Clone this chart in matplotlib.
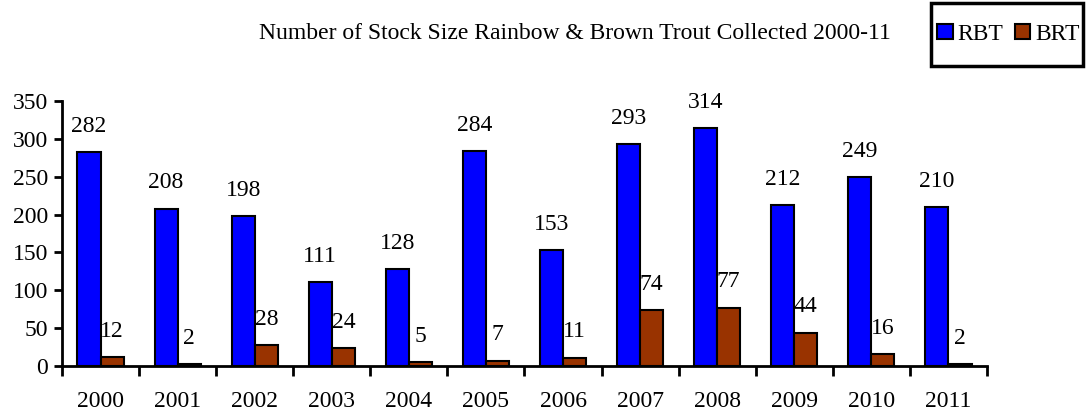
import matplotlib.pyplot as plt
from matplotlib.patches import Rectangle
import numpy as np

plt.rcParams.update({
    "font.family": ["Liberation Serif", "DejaVu Serif"],
    "font.size": 17,
})

years = ["2000", "2001", "2002", "2003", "2004", "2005",
         "2006", "2007", "2008", "2009", "2010", "2011"]
rbt = [282, 208, 198, 111, 128, 284, 153, 293, 314, 212, 249, 210]
brt = [12, 2, 28, 24, 5, 7, 11, 74, 77, 44, 16, 2]

fig = plt.figure(figsize=(10.86, 4.17), dpi=100)
ax = fig.add_axes([0.0571, 0.1223, 0.8517, 0.6355])

x = np.arange(len(years))
w = 0.3
b1 = ax.bar(x - w / 2, rbt, w, color="#0000FF", edgecolor="black", linewidth=1.5, label="RBT")
b2 = ax.bar(x + w / 2, brt, w, color="#993300", edgecolor="black", linewidth=1.5, label="BRT")

for rect, v in list(zip(b1, rbt)) + list(zip(b2, brt)):
    ax.annotate(str(v), (rect.get_x() + rect.get_width() / 2, v),
                textcoords="offset points", xytext=(0, 11),
                ha="center", va="bottom", fontsize=17)

ax.set_xlim(-0.5, len(years) - 0.5)
ax.set_ylim(0, 350)
ax.set_yticks(range(0, 351, 50))
ax.set_xticks(x)
ax.set_xticklabels(years)
ax.set_xticks(np.arange(-0.5, len(years)), minor=True)
ax.tick_params(axis="x", which="major", length=0, pad=18)
ax.tick_params(axis="x", which="minor", length=7, width=2)
ax.tick_params(axis="y", length=6, width=2, pad=4)
for s in ["top", "right"]:
    ax.spines[s].set_visible(False)
for s in ["left", "bottom"]:
    ax.spines[s].set_linewidth(2)

fig.text(0.529, 0.92, "Number of Stock Size Rainbow & Brown Trout Collected 2000-11",
         ha="center", va="center", fontsize=17)

# legend box is taller than its contents in the original
fig.patches.append(Rectangle((0.857, 0.8417), 0.14, 0.151, transform=fig.transFigure,
                             fill=False, edgecolor="black", linewidth=2.5))
leg = fig.legend(handles=[b1, b2], loc="center left", bbox_to_anchor=(0.863, 0.918),
                 ncol=2, frameon=False, fontsize=17,
                 handlelength=0.65, handleheight=0.65, handletextpad=0.2,
                 columnspacing=0.5, borderpad=0, borderaxespad=0)

fig.savefig("out.png", dpi=100)
